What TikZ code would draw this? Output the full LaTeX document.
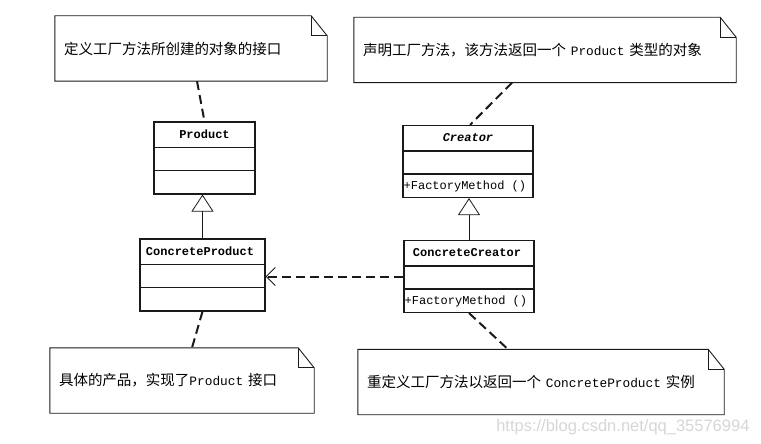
\documentclass[tikz,border=0pt]{standalone}
\usepackage{fontspec}
\setmainfont{Noto Sans CJK SC}
\setmonofont{Liberation Mono}
\newfontfamily\wmfont{Liberation Sans}
\usepackage{tikz}
\usetikzlibrary{arrows.meta, positioning, calc}
\definecolor{uml-line}{HTML}{1A1A1A}
\definecolor{uml-mark}{HTML}{D6D6D6}
\newcommand{\umltt}[1]{{\fontsize{12.8}{15}\selectfont\ttfamily #1}}

\begin{document}
\begin{tikzpicture}[x=1pt, y=-1pt,
    notebox/.style={text width=#1, inner xsep=9pt, inner ysep=0pt, minimum height=65pt,
        align=left, font=\fontsize{14.5}{17}\selectfont},
    umlclass/.style={draw=uml-line, line width=1.1pt, minimum width=#1, minimum height=72pt, inner sep=0pt},
    classtitle/.style={font=\fontsize{12}{14}\selectfont\ttfamily\bfseries},
    classop/.style={font=\fontsize{12}{14}\selectfont\ttfamily, inner sep=1pt},
    notelink/.style={uml-line, line width=2pt, dash pattern=on 9pt off 5pt},
    inherit/.style={uml-line, line width=0.8pt, -{Triangle[open, length=17pt, width=22pt]}}
]
    \useasboundingbox (0,0) rectangle (761,444);

    % Notes
    \node[notebox=254pt] (n1) at (191,48.5) {定义工厂方法所创建的对象的接口};
    \node[notebox=364pt] (n2) at (545,50) {声明工厂方法，该方法返回一个 \umltt{Product} 类型的对象};
    \node[notebox=246pt] (n3) at (182,380.5) {具体的产品，实现了\umltt{Product} 接口};
    \node[notebox=348pt] (n4) at (541,382) {重定义工厂方法以返回一个 \umltt{ConcreteProduct} 实例};

    \foreach \n in {n1, n2, n3, n4} {
        \draw[uml-line, line width=0.9pt] (\n.north west) -- ($(\n.north east)+(-16,0)$)
            -- ($(\n.north east)+(0,20)$) -- (\n.south east) -- (\n.south west) -- cycle;
        \draw[uml-line, line width=0.9pt] ($(\n.north east)+(-16,0)$) -- ($(\n.north east)+(-16,20)$)
            -- ($(\n.north east)+(0,20)$);
    }

    % Classes
    \node[umlclass=101pt] (product) at (204.5,158) {};
    \node[umlclass=130pt] (creator) at (468,161.5) {};
    \node[umlclass=125pt] (cproduct) at (202.5,275) {};
    \node[umlclass=130pt] (ccreator) at (469,276.5) {};

    \foreach \c in {product, creator, cproduct, ccreator} {
        \draw[uml-line, line width=1.1pt] ($(\c.north west)+(0,26)$) -- ($(\c.north east)+(0,26)$);
        \draw[uml-line, line width=1.1pt] ($(\c.north west)+(0,49)$) -- ($(\c.north east)+(0,49)$);
    }

    \node[classtitle] (product-name) at ($(product.north)+(0,13)$) {Product};
    \node[classtitle, font=\fontsize{12}{14}\selectfont\ttfamily\bfseries\itshape] (creator-name) at ($(creator.north)+(0,13)$) {Creator};
    \node[classtitle, anchor=west] (cproduct-name) at ($(cproduct.north west)+(3,13)$) {ConcreteProduct};
    \node[classtitle, anchor=west] (ccreator-name) at ($(ccreator.north west)+(6,13)$) {ConcreteCreator};
    \node[classop, anchor=west] (creator-op) at ($(creator.south west)+(0,-11.5)$) {+FactoryMethod ()};
    \node[classop, anchor=west] (ccreator-op) at ($(ccreator.south west)+(0,-11.5)$) {+FactoryMethod ()};

    % Generalisation
    \draw[inherit] (cproduct.north) -- (cproduct.north |- product.south);
    \draw[inherit] (ccreator.north) -- (ccreator.north |- creator.south);

    % Dependency
    \draw[notelink, -{Straight Barb[length=9pt, width=18pt, line width=1pt]}]
        (ccreator.west) -- (ccreator.west -| cproduct.east);

    % Note links
    \draw[notelink] ($(n1.south)+(6,0)$) -- (product.north);
    \draw[notelink] ($(n2.south)+(-33,0)$) -- ($(creator.north)+(2,0)$);
    \draw[notelink] (cproduct.south) -- ($(n3.north)+(10,0)$);
    \draw[notelink] (ccreator.south) -- ($(n4.north)+(-33,0)$);

    % Watermark
    \node[text=uml-mark, font=\wmfont\fontsize{16.5}{18}\selectfont, anchor=east] (mark) at (753,427) {https://blog.csdn.net/qq\_35576994};
\end{tikzpicture}
\end{document}
